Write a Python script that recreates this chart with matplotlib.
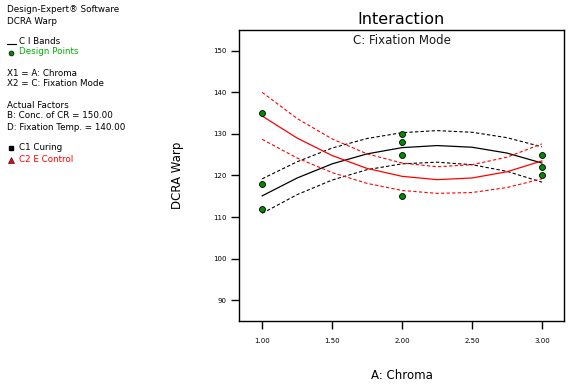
import matplotlib
matplotlib.use('Agg')
import matplotlib.pyplot as plt
from matplotlib.lines import Line2D

# design points (A: Chroma, DCRA Warp)
pts_x = [1, 1, 1, 2, 2, 2, 2, 3, 3, 3]
pts_y = [135, 118, 112, 130, 128, 125, 115, 125, 122, 120]

# curves
xs = [1.0, 1.25, 1.5, 1.75, 2.0, 2.25, 2.5, 2.75, 3.0]
c1_mean = [115.1, 119.4, 122.8, 125.2, 126.7, 127.2, 126.8, 125.4, 123.0]
c1_hi = [119.2, 123.3, 126.6, 128.9, 130.3, 130.8, 130.4, 129.1, 126.9]
c1_lo = [110.9, 115.4, 118.9, 121.4, 122.8, 123.2, 122.6, 121.0, 118.4]
c2_mean = [134.3, 129.0, 124.8, 121.7, 119.8, 119.0, 119.4, 120.9, 123.5]
c2_hi = [140.0, 133.7, 128.8, 125.2, 123.0, 122.1, 122.6, 124.4, 127.6]
c2_lo = [128.7, 124.2, 120.7, 118.1, 116.4, 115.7, 115.9, 117.1, 119.2]

xticks = [1.0, 1.5, 2.0, 2.5, 3.0]
yticks = [90, 100, 110, 120, 130, 140, 150]

fig = plt.figure(figsize=(5.72, 3.88), dpi=100)
ax = fig.add_axes([0.418, 0.1727, 0.5685, 0.75])

dash = (0, (3, 2))
ax.plot(xs, c1_mean, color='black', lw=0.9)
ax.plot(xs, c1_hi, color='black', lw=0.8, ls=dash)
ax.plot(xs, c1_lo, color='black', lw=0.8, ls=dash)
ax.plot(xs, c2_mean, color='red', lw=0.9)
ax.plot(xs, c2_hi, color='red', lw=0.8, ls=dash)
ax.plot(xs, c2_lo, color='red', lw=0.8, ls=dash)
ax.plot(pts_x, pts_y, 'o', color='#008a00', mec='black', mew=0.6, ms=4.3, zorder=5)

ax.set_xlim(0.835, 3.16)
ax.set_ylim(85, 155)
ax.set_xticks(xticks)
ax.set_xticklabels(['%.2f' % v for v in xticks])
ax.set_yticks(yticks)
ax.tick_params(labelsize=5, length=6, width=1, direction='out')
ax.tick_params(axis='y', pad=3)
ax.tick_params(axis='x', pad=6)
for s in ax.spines.values():
    s.set_linewidth(1)

ax.text(0.5, 0.985, 'C: Fixation Mode', transform=ax.transAxes, ha='center', va='top',
        fontsize=8.5, color='#1a1a1a')
fig.text(0.701, 0.951, 'Interaction', ha='center', va='center', fontsize=11.5)
ax.set_xlabel('A: Chroma', fontsize=8.5, va='center')
ax.xaxis.set_label_coords(0.5, -0.189)
ax.set_ylabel('DCRA Warp', fontsize=8.5, va='center')
ax.yaxis.set_label_coords(-0.188, 0.5)

# left info block
fs = 6.3
def line(y, s, color='black', x=7):
    fig.text(x / 572, 1 - y / 388, s, fontsize=fs, color=color, va='center')

line(10, 'Design-Expert\u00ae Software')
line(21, 'DCRA Warp')
line(42, 'C I Bands', x=19)
line(52, 'Design Points', color='#00b000', x=19)
line(73, 'X1 = A: Chroma')
line(84, 'X2 = C: Fixation Mode')
line(105, 'Actual Factors')
line(116, 'B: Conc. of CR = 150.00')
line(127, 'D: Fixation Temp. = 140.00')
line(148, 'C1 Curing', x=19)
line(159, 'C2 E Control', color='red', x=19)

def mark(y, **kw):
    fig.add_artist(Line2D([11 / 572], [1 - y / 388], transform=fig.transFigure, **kw))

fig.add_artist(Line2D([7 / 572, 16 / 572], [1 - 44 / 388] * 2, transform=fig.transFigure,
                      color='black', lw=0.8))
mark(53, marker='o', color='#008a00', mec='black', mew=0.5, ms=3.5)
mark(148, marker='s', color='black', ms=3.5)
mark(160, marker='^', color='red', mec='black', mew=0.4, ms=4)

fig.savefig('out.png', dpi=100)
